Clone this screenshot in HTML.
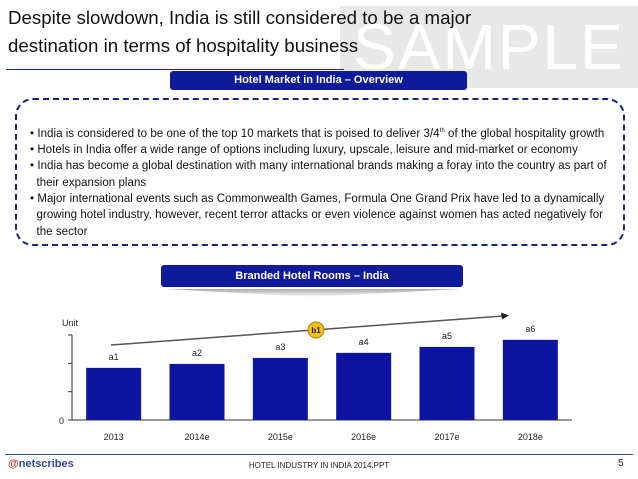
<!DOCTYPE html>
<html><head><meta charset="utf-8"><style>
body{margin:0;width:638px;height:479px;background:#fff;position:relative;overflow:hidden;font-family:"Liberation Sans",sans-serif;}
.abs{position:absolute;}
.pill{background:#0d1a9a;color:#fff;font-weight:bold;font-size:11px;text-align:center;border-radius:3px;}
#bullets div{font-size:11.5px;line-height:16.3px;color:#111;white-space:nowrap;letter-spacing:0.05px;}
</style></head><body>
<div class="abs" style="left:340px;top:6px;width:298px;height:82px;background:#e8e8e8;color:#fff;font-size:64px;line-height:82px;text-align:center;letter-spacing:2px;">SAMPLE</div>
<div class="abs" style="left:8px;top:4px;font-size:18.7px;line-height:28px;color:#111;">Despite slowdown, India is still considered to be a major<br>destination in terms of hospitality business</div>
<div class="abs" style="left:6px;top:69px;width:338px;height:1px;background:#1a2a8a;"></div>
<div class="abs pill" style="left:170px;top:71px;width:297px;height:19px;line-height:19px;">Hotel Market in India – Overview</div>
<div class="abs" style="left:15px;top:98px;width:606px;height:144px;border:2px dashed #1a237e;border-radius:18px;"></div>
<div class="abs" id="bullets" style="left:30px;top:123px;width:580px;">
<div>• India is considered to be one of the top 10 markets that is poised to deliver 3/4<sup style="font-size:6px">th</sup> of the global hospitality growth</div>
<div>• Hotels in India offer a wide range of options including luxury, upscale, leisure and mid-market or economy</div>
<div>• India has become a global destination with many international brands making a foray into the country as part of<br>&nbsp;&nbsp;their expansion plans</div>
<div>• Major international events such as Commonwealth Games, Formula One Grand Prix have led to a dynamically<br>&nbsp;&nbsp;growing hotel industry, however, recent terror attacks or even violence against women has acted negatively for<br>&nbsp;&nbsp;the sector</div>
</div>
<div class="abs pill" style="left:161px;top:265px;width:302px;height:22px;line-height:22px;">Branded Hotel Rooms – India</div>
<div class="abs" style="left:165px;top:289px;width:295px;height:8px;background:linear-gradient(#aaa,#fff);clip-path:polygon(0 0,100% 0,50% 100%);"></div>
<svg class="abs" style="left:0;top:0" width="638" height="479" id="chart"></svg>
<div class="abs" style="left:5px;top:454px;width:628px;height:1px;background:#3a4a7a;"></div>
<div class="abs" style="left:8px;top:458px;font-size:11px;font-weight:bold;color:#2a4aa0;"><span style="color:#c0392b">@</span>netscribes</div>
<div class="abs" style="left:0;width:638px;top:461px;text-align:center;font-size:8px;color:#222;">HOTEL INDUSTRY IN INDIA 2014.PPT</div>
<div class="abs" style="left:618px;top:458px;font-size:10px;color:#222;">5</div>
<script>
const categories=["2013","2014e","2015e","2016e","2017e","2018e"];
const values=[1.84,1.98,2.19,2.37,2.58,2.83];
const labels=["a1","a2","a3","a4","a5","a6"];
const yTicks=[0,1,2,3];
const svg=document.getElementById('chart');const NS="http://www.w3.org/2000/svg";
const x0=72,x1=572,y0=420,yTop=335,ymax=3;
const y=v=>y0-(v/ymax)*(y0-yTop);
const band=(x1-x0)/categories.length;
const xc=i=>x0+band*(i+0.5);
function mk(t,a){const e=document.createElementNS(NS,t);for(const k in a)e.setAttribute(k,a[k]);svg.appendChild(e);return e;}
let ax=mk('line',{x1:x0,y1:yTop,x2:x0,y2:y0,stroke:'#333','stroke-width':1});

let bx=mk('line',{x1:x0,y1:y0,x2:x1,y2:y0,stroke:'#333','stroke-width':1});

yTicks.forEach(t=>{const l=mk('line',{x1:x0-4,y1:y(t),x2:x0,y2:y(t),stroke:'#333'});
});
let z=mk('text',{x:x0-8,y:y0+4,'font-size':9,'text-anchor':'end',fill:'#222'});z.textContent='0';

let u=mk('text',{x:62,y:326,'font-size':9,fill:'#222'});u.textContent='Unit';

const bw=55;
categories.forEach((c,i)=>{
 const r=mk('rect',{x:xc(i)-bw/2,y:y(values[i]),width:bw,height:y0-y(values[i]),fill:'#0d14a0'});
 
 const t=mk('text',{x:xc(i),y:y(values[i])-8,'font-size':9,'text-anchor':'middle',fill:'#222'});t.textContent=labels[i];
 
 const xl=mk('text',{x:xc(i),y:y0+20,'font-size':9,'text-anchor':'middle',fill:'#222'});xl.textContent=c;
 
});
let tr=mk('line',{x1:111,y1:345,x2:503,y2:316,stroke:'#555','stroke-width':1.5});

let ah=mk('polygon',{points:'509,315.5 501,312.5 502,319.5',fill:'#222'});

let c=mk('circle',{cx:316,cy:330,r:8,fill:'#f0c020',stroke:'#b08000'});

let ct=mk('text',{x:316,y:333,'font-size':8,'font-weight':'bold','text-anchor':'middle',fill:'#222'});ct.textContent='b1';

</script>
</body></html>
